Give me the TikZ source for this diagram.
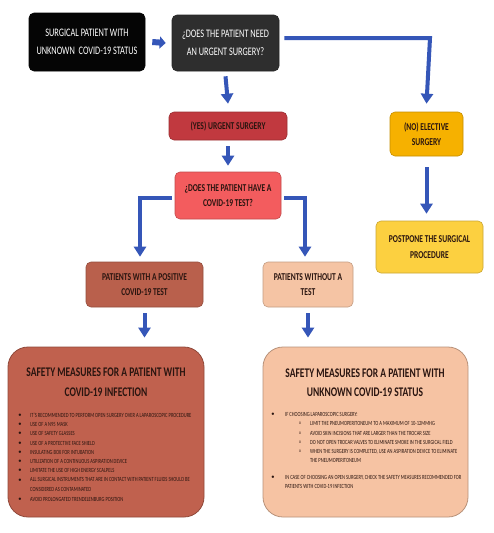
\documentclass[tikz,border=0pt]{standalone}
\usepackage{fontspec}
\setmainfont{Carlito}[FakeStretch=0.72]
\usetikzlibrary{arrows.meta}
\definecolor{arrowblue}{HTML}{3556B8}
\definecolor{cBlack}{HTML}{050505}
\definecolor{cDark}{HTML}{2E2E2E}
\definecolor{cYes}{HTML}{C1393F}
\definecolor{cTest}{HTML}{F35C5E}
\definecolor{cPos}{HTML}{B9604C}
\definecolor{cNeg}{HTML}{F5C4A4}
\definecolor{cElect}{HTML}{F6B100}
\definecolor{cPost}{HTML}{FCD040}
\definecolor{cBigL}{HTML}{C0614E}
\definecolor{cBigR}{HTML}{F6C3A3}
\definecolor{cText}{HTML}{2A1510}
\tikzset{
  box/.style={rounded corners=5pt, align=center, inner sep=0pt, draw=#1!80!black, line width=0.6pt, fill=#1},
  smalltxt/.style={font=\fontsize{10.5}{15.5}\selectfont\bfseries, text=cText},
  bigbox/.style={rounded corners=20pt, inner sep=0pt, draw=#1!75!black, line width=0.8pt, fill=#1},
  flow/.style={draw=arrowblue, line width=4pt, -{Triangle[width=12pt,length=10pt]}},
  item/.style={anchor=west, inner sep=0pt, align=left, font=\fontsize{6.3}{9.5}\selectfont, text=cText},
  dot/.style={anchor=center, inner sep=0pt, font=\fontsize{5}{6}\selectfont, text=cText},
  title/.style={anchor=center, inner sep=0pt, align=center, font=\fontsize{13.2}{20}\selectfont\bfseries, text=cText}
}
\begin{document}
\begin{tikzpicture}[x=1pt,y=-1pt]
\useasboundingbox (0,0) rectangle (493,533);
\fill[white] (0,0) rectangle (493,533);

% top row
\node[box=cBlack, minimum width=116pt, minimum height=58pt, text=white,
  font=\fontsize{11.5}{17.5}\selectfont] (start) at (87,42) {SURGICAL PATIENT WITH\\UNKNOWN\ \ COVID-19 STATUS};
\node[box=cDark, minimum width=107pt, minimum height=56pt, text=white,
  font=\fontsize{11.5}{17.5}\selectfont] (need) at (225.5,43) {¿DOES THE PATIENT NEED\\AN URGENT SURGERY?};

% middle
\node[box=cYes, minimum width=118pt, minimum height=28pt, smalltxt] (yes) at (228,126) {(YES) URGENT SURGERY};
\node[box=cTest, minimum width=106pt, minimum height=47pt, smalltxt] (test) at (228,195.5) {¿DOES THE PATIENT HAVE A\\COVID-19 TEST?};
\node[box=cPos, minimum width=117pt, minimum height=45pt, smalltxt] (pos) at (144.5,284.5) {PATIENTS WITH A POSITIVE\\COVID-19 TEST};
\node[box=cNeg, minimum width=90pt, minimum height=45pt, smalltxt] (neg) at (308,284.5) {PATIENTS WITHOUT A\\TEST};
\node[box=cElect, minimum width=73pt, minimum height=44pt, smalltxt] (elect) at (426.5,134) {(NO) ELECTIVE\\SURGERY};
\node[box=cPost, minimum width=107pt, minimum height=52pt, smalltxt] (post) at (429.5,247) {POSTPONE THE SURGICAL\\PROCEDURE};

% big boxes
\node[bigbox=cBigL, minimum width=196pt, minimum height=170pt] (bigL) at (106,432) {};
\node[bigbox=cBigR, minimum width=205pt, minimum height=170pt] (bigR) at (365.5,432) {};

\node[title] (tL1) at (106,372) {SAFETY MEASURES FOR A PATIENT WITH};
\node[title] (tL2) at (106,392) {COVID-19 INFECTION};
\node[title] (tR1) at (365,373) {SAFETY MEASURES FOR A PATIENT WITH};
\node[title] (tR2) at (365,392) {UNKNOWN COVID-19 STATUS};

% left list
\foreach \yy/\txt [count=\i] in {415/{IT'S RECOMMENDED TO PERFORM OPEN SURGERY OVER A LAPAROSCOPIC PROCEDURE},
  424/{USE OF A N95 MASK}, 433/{USE OF SAFETY GLASSES}, 443/{USE OF A PROTECTIVE FACE SHIELD},
  452/{INSULATING BOX FOR INTUBATION}, 461/{UTILIZATION OF A CONTINUOUS ASPIRATION DEVICE},
  470/{LIMITATE THE USE OF HIGH ENERGY SCALPELS},
  484.5/{ALL SURGICAL INSTRUMENTS THAT ARE IN CONTACT WITH PATIENT FLUIDS SHOULD BE\\CONSIDERED AS CONTAMINATED},
  499/{AVOID PROLONGATED TRENDELENBURG POSITION}}{
  \node[item] (li\i) at (30,\yy) {\txt};
}
\foreach \yy [count=\i] in {415,424,433,443,452,461,470,480,499}{
  \node[dot] (lb\i) at (20,\yy) {$\bullet$};
}

% right list
\node[dot] (rb1) at (273,414) {$\bullet$};
\node[item] (ri1) at (285,414) {IF CHOOSING LAPAROSCOPIC SURGERY:};
\foreach \yy/\txt [count=\i] in {423/{LIMIT THE PNEUMOPERITONEUM TO A MAXIMUM OF 10-12MMHG},
  433/{AVOID SKIN INCISIONS THAT ARE LARGER THAN THE TROCAR SIZE},
  442/{DO NOT OPEN TROCAR VALVES TO ELIMINATE SMOKE IN THE SURGICAL FIELD},
  456/{WHEN THE SURGERY IS COMPLETED, USE AN ASPIRATION DEVICE TO ELIMINATE\\THE PNEUMOPERITONEUM}}{
  \node[item] (rs\i) at (310,\yy) {\txt};
}
\foreach \yy [count=\i] in {423,433,442,451}{
  \node[dot] (rc\i) at (300,\yy) {o};
}
\node[dot] (rb2) at (273,477) {$\bullet$};
\node[item] (ri2) at (285,482) {IN CASE OF CHOOSING AN OPEN SURGERY, CHECK THE SAFETY MEASURES RECOMMENDED FOR\\PATIENTS WITH COVID-19 INFECTION};

% connectors
\coordinate (c1) at (430,38);
\coordinate (cl) at (140,198);
\coordinate (cr) at (305,198);
\draw[draw=arrowblue, line width=6pt, -{Triangle[width=12pt,length=6pt]}] ([xshift=7pt]start.east) -- ([xshift=-6pt]need.west);
\draw[flow] ([yshift=-5pt]need.south) -- ([yshift=8pt]yes.north);
\draw[flow] ([xshift=5pt]need.east |- c1) -- (c1) -- ([yshift=8pt]elect.north);
\draw[flow] ([yshift=-6pt]yes.south) -- ([yshift=6pt]test.north);
\draw[flow] ([xshift=-3pt]test.west |- cl) -- (cl) -- ([yshift=5pt]cl |- pos.north);
\draw[flow] ([xshift=3pt]test.east |- cr) -- (cr) -- ([yshift=5pt]cr |- neg.north);
\draw[flow] ([yshift=-6pt]pos.south) -- ([yshift=9pt]pos.south |- bigL.north);
\draw[flow] ([yshift=-6pt]neg.south) -- ([yshift=9pt]neg.south |- bigR.north);
\draw[flow] ([yshift=-11pt]elect.south) -- ([yshift=7pt]elect.south |- post.north);
\end{tikzpicture}
\end{document}
